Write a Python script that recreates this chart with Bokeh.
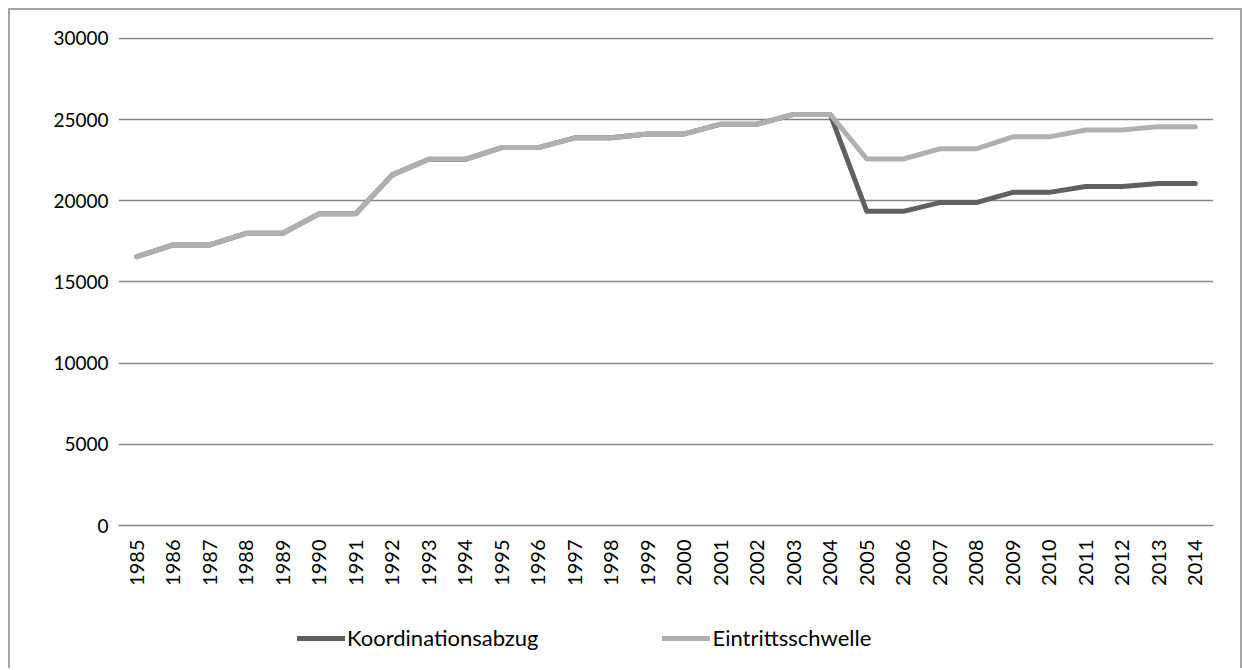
import math
from bokeh.plotting import figure
from bokeh.layouts import column
from bokeh.models import FactorRange, Range1d, FixedTicker, Legend, LegendItem, ColumnDataSource
from bokeh.embed import file_html
from bokeh.resources import INLINE

years = ["1985", "1986", "1987", "1988", "1989", "1990", "1991", "1992", "1993", "1994",
         "1995", "1996", "1997", "1998", "1999", "2000", "2001", "2002", "2003", "2004",
         "2005", "2006", "2007", "2008", "2009", "2010", "2011", "2012", "2013", "2014"]

koordinationsabzug = [16560, 17280, 17280, 18000, 18000, 19200, 19200, 21600, 22560, 22560,
                      23280, 23280, 23880, 23880, 24120, 24120, 24720, 24720, 25320, 25320,
                      19350, 19350, 19890, 19890, 20520, 20520, 20880, 20880, 21060, 21060]

eintrittsschwelle = [16560, 17280, 17280, 18000, 18000, 19200, 19200, 21600, 22560, 22560,
                     23280, 23280, 23880, 23880, 24120, 24120, 24720, 24720, 25320, 25320,
                     22575, 22575, 23205, 23205, 23940, 23940, 24360, 24360, 24570, 24570]

series_names = ["Koordinationsabzug", "Eintrittsschwelle"]
y_ticks = [0, 5000, 10000, 15000, 20000, 25000, 30000]

FONT = "Lato"
DARK = "#606060"
LIGHT = "#b0b0b0"
src = ColumnDataSource(dict(x=years, k=koordinationsabzug, e=eintrittsschwelle))

# main chart
p = figure(width=1230, height=587, x_range=FactorRange(*years), y_range=Range1d(0, 30060),
           output_backend="svg", toolbar_location=None,
           min_border_left=108, min_border_right=27, min_border_top=27, min_border_bottom=72)
p.outline_line_color = None
p.background_fill_color = "white"
p.border_fill_color = "white"

rk = p.line("x", "k", source=src, line_color=DARK, line_width=5,
            line_join="round", line_cap="round")
re_ = p.line("x", "e", source=src, line_color=LIGHT, line_width=5,
             line_join="round", line_cap="round")

p.yaxis.ticker = FixedTicker(ticks=y_ticks)
p.yaxis.axis_line_color = None
p.yaxis.major_tick_line_color = None
p.yaxis.minor_tick_line_color = None
p.yaxis.major_tick_out = 0
p.yaxis.major_tick_in = 0
p.yaxis.major_label_standoff = 10
p.yaxis.major_label_text_font = FONT
p.yaxis.major_label_text_font_size = "19px"
p.yaxis.major_label_text_color = "#000000"

p.xaxis.axis_line_color = "#868686"
p.xaxis.axis_line_width = 1.5
p.xaxis.major_tick_line_color = None
p.xaxis.minor_tick_line_color = None
p.xaxis.major_tick_out = 0
p.xaxis.major_tick_in = 0
p.xaxis.major_label_orientation = math.pi / 2
p.xaxis.major_label_standoff = 14
p.xaxis.major_label_text_font = FONT
p.xaxis.major_label_text_font_size = "20px"
p.xaxis.major_label_text_color = "#000000"

p.xgrid.grid_line_color = None
p.ygrid.grid_line_color = "#868686"
p.ygrid.grid_line_width = 1.5

# legend strip below the chart (its line proxies lie outside the visible y range)
lg = figure(width=1230, height=71, x_range=FactorRange(*years), y_range=Range1d(-2, -1),
            output_backend="svg", toolbar_location=None, min_border=0)
lg.axis.visible = False
lg.grid.visible = False
lg.outline_line_color = None
lg.background_fill_color = "white"
lg.border_fill_color = "white"
lk = lg.line("x", "k", source=src, line_color=DARK, line_width=5, line_cap="round")
le = lg.line("x", "e", source=src, line_color=LIGHT, line_width=5, line_cap="round")

legend = Legend(items=[LegendItem(label=series_names[0], renderers=[lk]),
                       LegendItem(label=series_names[1], renderers=[le])],
                orientation="horizontal", location=(179, 17),
                glyph_width=48, glyph_height=20, label_standoff=2, spacing=124,
                padding=0, margin=0, border_line_color=None, background_fill_alpha=0,
                label_text_font=FONT, label_text_font_size="22px", label_text_color="#000000")
lg.add_layout(legend, "center")

layout = column(p, lg, spacing=0,
                styles={"margin-left": "8px", "margin-top": "8px",
                        "border-top": "2px solid #a6a6a6", "border-left": "2px solid #a6a6a6",
                        "border-right": "2px solid #a6a6a6"})

open("out.html", "w").write(file_html(layout, INLINE))
